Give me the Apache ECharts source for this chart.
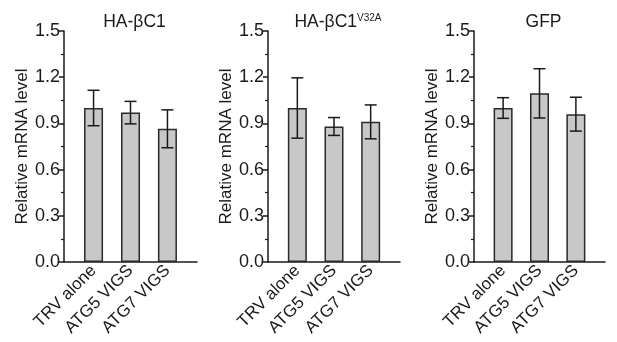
<!DOCTYPE html>
<html>
<head>
<meta charset="utf-8">
<script src="https://cdn.jsdelivr.net/npm/echarts@6/dist/echarts.min.js"></script>
<style>html,body{margin:0;padding:0;background:#fff}#c{width:617px;height:342px}</style>
</head>
<body>
<div id="c"></div>
<script>
const categories = ['TRV alone', 'ATG5 VIGS', 'ATG7 VIGS'];
const yTicks = [0, 0.3, 0.6, 0.9, 1.2, 1.5];
const panelTitles = ['HA-βC1', 'HA-βC1{sup|V32A}', 'GFP'];
const hac1Means = [1.00, 0.97, 0.865];
const hac1Errs = [0.115, 0.073, 0.123];
const v32aMeans = [1.00, 0.88, 0.91];
const v32aErrs = [0.196, 0.058, 0.11];
const gfpMeans = [1.00, 1.095, 0.96];
const gfpErrs = [0.067, 0.16, 0.11];

const panels = [
  {means: hac1Means, errs: hac1Errs, left: 64, width: 133},
  {means: v32aMeans, errs: v32aErrs, left: 268, width: 132},
  {means: gfpMeans, errs: gfpErrs, left: 474, width: 131}
];
const ink = '#1a1a1a';
const font = '"Liberation Sans", Arial, sans-serif';

const grids = [], xAxes = [], yAxes = [], series = [], titles = [];
panels.forEach((p, i) => {
  grids.push({left: p.left, width: p.width, top: 31, height: 231});
  titles.push({
    text: panelTitles[i],
    left: p.left + p.width / 2 - 1,
    top: 8,
    textAlign: 'center',
    textStyle: {
      fontFamily: font, fontSize: 17.5, fontWeight: 'normal', color: ink,
      rich: {sup: {fontFamily: font, fontSize: 10, color: ink, padding: [0, 0, 9, 0]}}
    }
  });
  xAxes.push({
    gridIndex: i, type: 'value', min: -0.8, max: 2.8,
    splitLine: {show: false},
    axisLine: {show: true, onZero: false, lineStyle: {color: ink, width: 1.5}},
    axisTick: {show: false},
    axisLabel: {
      customValues: [0, 1, 2],
      formatter: v => categories[Math.round(v)],
      rotate: 45, margin: 6,
      fontFamily: font, fontSize: 17, color: ink
    }
  });
  yAxes.push({
    gridIndex: i, type: 'value', min: yTicks[0], max: yTicks[yTicks.length - 1], interval: 0.3,
    name: 'Relative mRNA level', nameLocation: 'middle', nameGap: 33,
    nameTextStyle: {fontFamily: font, fontSize: 17, color: ink},
    splitLine: {show: false},
    axisLine: {show: true, onZero: false, lineStyle: {color: ink, width: 1.5}},
    axisTick: {show: true, length: 5, lineStyle: {color: ink, width: 1.5}},
    minorTick: {show: true, splitNumber: 2, length: 3, lineStyle: {color: ink, width: 1.2}},
    axisLabel: {
      formatter: v => v.toFixed(1), margin: 4,
      fontFamily: font, fontSize: 18, color: ink
    }
  });
  series.push({
    type: 'bar', xAxisIndex: i, yAxisIndex: i,
    barWidth: 19,
    data: p.means.map((m, k) => [k, m]),
    itemStyle: {color: '#c8c8c8', borderColor: '#2a2a2a', borderWidth: 1.5},
    silent: true
  });
  series.push({
    type: 'custom', xAxisIndex: i, yAxisIndex: i,
    data: p.means.map((m, k) => [k, m - p.errs[k], m + p.errs[k]]),
    renderItem: (params, api) => {
      const lo = api.coord([api.value(0), api.value(1)]);
      const hi = api.coord([api.value(0), api.value(2)]);
      const hw = 6;
      const st = {stroke: ink, lineWidth: 1.5};
      return {
        type: 'group',
        children: [
          {type: 'line', shape: {x1: lo[0], y1: lo[1], x2: hi[0], y2: hi[1]}, style: st},
          {type: 'line', shape: {x1: lo[0] - hw, y1: lo[1], x2: lo[0] + hw, y2: lo[1]}, style: st},
          {type: 'line', shape: {x1: hi[0] - hw, y1: hi[1], x2: hi[0] + hw, y2: hi[1]}, style: st}
        ]
      };
    },
    z: 5, silent: true
  });
});

const chart = echarts.init(document.getElementById('c'), null, {renderer: 'canvas'});
chart.setOption({
  animation: false,
  backgroundColor: '#fff',
  title: titles,
  grid: grids,
  xAxis: xAxes,
  yAxis: yAxes,
  series: series
});
</script>
</body>
</html>
